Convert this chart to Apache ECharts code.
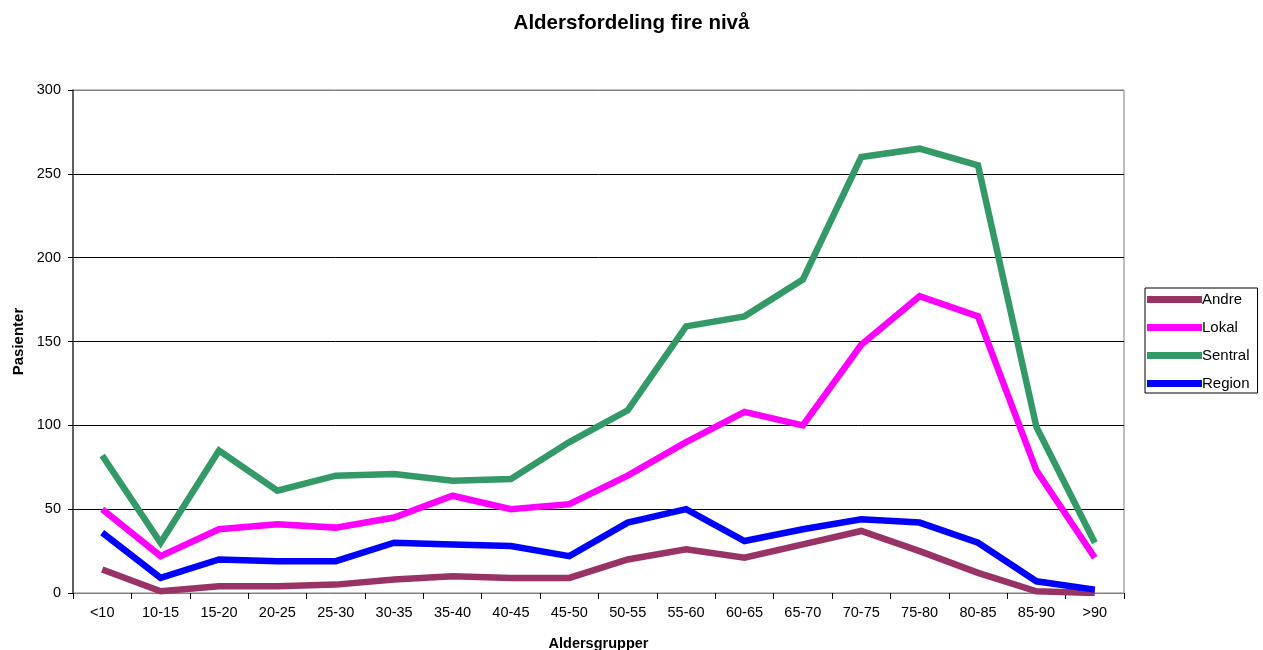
<!DOCTYPE html>
<html>
<head>
<meta charset="utf-8">
<script src="https://cdn.jsdelivr.net/npm/echarts@6/dist/echarts.min.js"></script>
<style>
  html, body { margin: 0; padding: 0; background: #fff; }
  #chart { width: 1263px; height: 650px; }
</style>
</head>
<body>
<div id="chart"></div>
<script>
// Age groups on the category axis
const categories = ['<10', '10-15', '15-20', '20-25', '25-30', '30-35', '35-40', '40-45', '45-50',
  '50-55', '55-60', '60-65', '65-70', '70-75', '75-80', '80-85', '85-90', '>90'];

// Patient counts per level of care
const andre   = [14, 1, 4, 4, 5, 8, 10, 9, 9, 20, 26, 21, 29, 37, 25, 12, 1, 0];
const lokal   = [50, 22, 38, 41, 39, 45, 58, 50, 53, 70, 90, 108, 100, 148, 177, 165, 73, 21];
const sentral = [82, 30, 85, 61, 70, 71, 67, 68, 90, 109, 159, 165, 187, 260, 265, 255, 99, 30];
const region  = [36, 9, 20, 19, 19, 30, 29, 28, 22, 42, 50, 31, 38, 44, 42, 30, 7, 2];

const yTicks = { min: 0, max: 300, interval: 50 };

const font = 'Arial, "Liberation Sans", sans-serif';

function line(name, data, color) {
  return {
    name, type: 'line', data,
    symbol: 'none',
    lineStyle: { color, width: 6.5, join: 'miter' },
    itemStyle: { color },
    emphasis: { disabled: true },
    z: 3
  };
}

const chart = echarts.init(document.getElementById('chart'));
chart.setOption({
  animation: false,
  backgroundColor: '#fff',
  textStyle: { fontFamily: font },
  title: {
    text: 'Aldersfordeling fire nivå',
    left: 'center', top: 8,
    textStyle: { fontFamily: font, fontSize: 20.5, fontWeight: 'bold', color: '#000' }
  },
  legend: {
    orient: 'vertical',
    left: 1145, top: 288,
    padding: [4, 8, 2, 2],
    itemGap: 13,
    itemWidth: 55, itemHeight: 7,
    icon: 'rect',
    borderColor: '#000', borderWidth: 1,
    textStyle: { fontFamily: font, fontSize: 15, color: '#000', padding: [0, 0, 0, -5], lineHeight: 14 },
    data: ['Andre', 'Lokal', 'Sentral', 'Region']
  },
  grid: {
    left: 73, right: 139, top: 90, bottom: 57,
    outerBoundsMode: 'none',
    show: true, borderColor: '#808080', borderWidth: 1, backgroundColor: '#fff'
  },
  xAxis: {
    type: 'category',
    data: categories,
    boundaryGap: true,
    name: 'Aldersgrupper',
    nameLocation: 'middle',
    nameGap: 43,
    nameTextStyle: { fontFamily: font, fontSize: 14.5, fontWeight: 'bold', color: '#000' },
    axisLine: { lineStyle: { color: '#808080', width: 1 } },
    axisTick: { show: true, alignWithLabel: false, length: 6, lineStyle: { color: '#000' } },
    axisLabel: { fontFamily: font, fontSize: 14.5, color: '#000', margin: 12, interval: 0 },
    splitLine: { show: false }
  },
  yAxis: {
    type: 'value',
    min: yTicks.min, max: yTicks.max, interval: yTicks.interval,
    name: 'Pasienter',
    nameLocation: 'middle',
    nameGap: 47,
    nameRotate: 90,
    nameTextStyle: { fontFamily: font, fontSize: 15, fontWeight: 'bold', color: '#000' },
    axisLine: { show: true, lineStyle: { color: '#404040', width: 1.5 } },
    axisTick: { show: true, length: 5, lineStyle: { color: '#000' } },
    axisLabel: { fontFamily: font, fontSize: 14.5, color: '#000', margin: 12 },
    splitLine: {
      show: true,
      lineStyle: { color: ['#000', '#000', '#000', '#000', '#000', '#000', '#808080'], width: 1 }
    }
  },
  series: [
    line('Andre', andre, '#993366'),
    line('Lokal', lokal, '#FF00FF'),
    line('Sentral', sentral, '#339966'),
    line('Region', region, '#0000FF')
  ]
});
</script>
</body>
</html>
